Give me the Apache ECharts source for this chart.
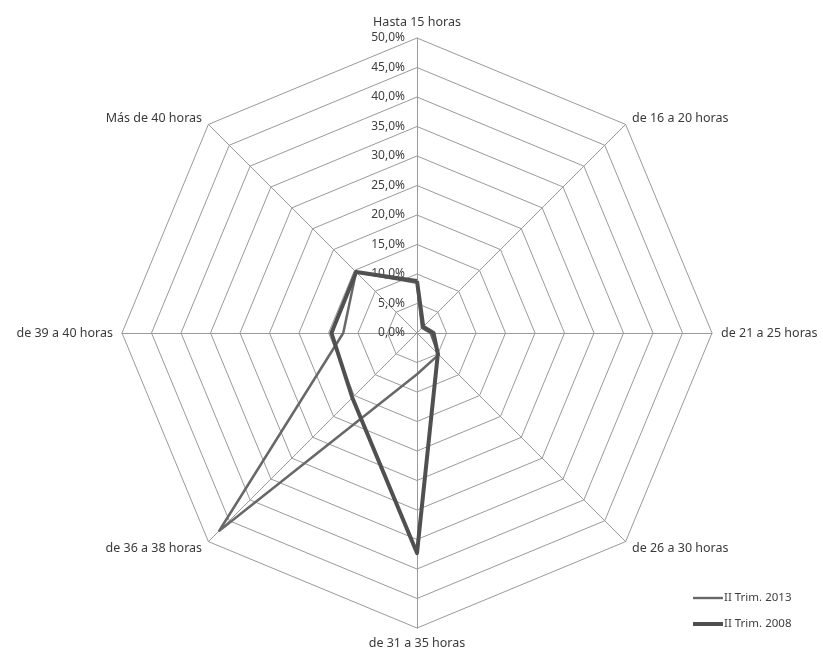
<!DOCTYPE html>
<html>
<head>
<meta charset="utf-8">
<script src="https://cdn.jsdelivr.net/npm/echarts@6/dist/echarts.min.js"></script>
<style>html,body{margin:0;padding:0;background:#fff;}#c{width:823px;height:657px;}</style>
</head>
<body>
<div id="c"></div>
<script>
var categories = ['Hasta 15 horas', 'de 16 a 20 horas', 'de 21 a 25 horas', 'de 26 a 30 horas', 'de 31 a 35 horas', 'de 36 a 38 horas', 'de 39 a 40 horas', 'Más de 40 horas'];
var seriesNames = ['II Trim. 2013', 'II Trim. 2008'];
var values2013 = [8.5, 1.2, 2.3, 5.2, 7.0, 47.4, 12.5, 14.6];
var values2008 = [8.8, 1.5, 2.8, 5.0, 37.3, 15.5, 14.5, 14.6];
var axisMax = 50;
var axisStep = 5;

// ECharts radar runs counter-clockwise; reorder so categories go clockwise from the top
function clockwise(arr) { return [arr[0]].concat(arr.slice(1).reverse()); }

var FONT = '"Noto Sans", "Open Sans", sans-serif';
var chart = echarts.init(document.getElementById('c'));
var indicators = clockwise(categories).map(function (c, i) {
  var ind = { name: c, min: 0, max: axisMax };
  if (i === 0) {
    ind.axisLabel = {
      show: true, color: '#404040', fontSize: 12, fontFamily: FONT, margin: 12,
      formatter: function (v) { return v.toFixed(1).replace('.', ',') + '%'; }
    };
  }
  return ind;
});
chart.setOption({
  animation: false,
  backgroundColor: '#ffffff',
  legend: {
    orient: 'vertical', left: 688, top: 587, itemGap: 14,
    itemWidth: 30, itemHeight: 10,
    textStyle: { color: '#404040', fontSize: 11.5, fontFamily: FONT, padding: [0, 0, 0, -4] },
    data: [
      { name: seriesNames[0], icon: 'path://M0,0 M0,3.8 H30 V6.2 H0 Z M30,10' },
      { name: seriesNames[1], icon: 'path://M0,0 M0,3 H30 V7 H0 Z M30,10' }
    ]
  },
  radar: {
    center: [417, 333],
    radius: 295,
    startAngle: 90,
    shape: 'polygon',
    splitNumber: axisMax / axisStep,
    indicator: indicators,
    axisName: { color: '#3a3a3a', fontSize: 12.5, fontFamily: FONT },
    nameGap: 9,
    axisLine: { show: true, lineStyle: { color: '#9a9a9a', width: 1 } },
    splitLine: { show: true, lineStyle: { color: '#9a9a9a', width: 1 } },
    splitArea: { show: false },
    axisTick: { show: false },
    axisLabel: { show: false }
  },
  series: [{
    type: 'radar',
    symbol: 'none',
    data: [
      { name: seriesNames[0], value: clockwise(values2013), lineStyle: { color: '#686868', width: 2.5 }, itemStyle: { color: '#686868' } },
      { name: seriesNames[1], value: clockwise(values2008), lineStyle: { color: '#505050', width: 4 }, itemStyle: { color: '#505050' } }
    ]
  }]
});
</script>
</body>
</html>
